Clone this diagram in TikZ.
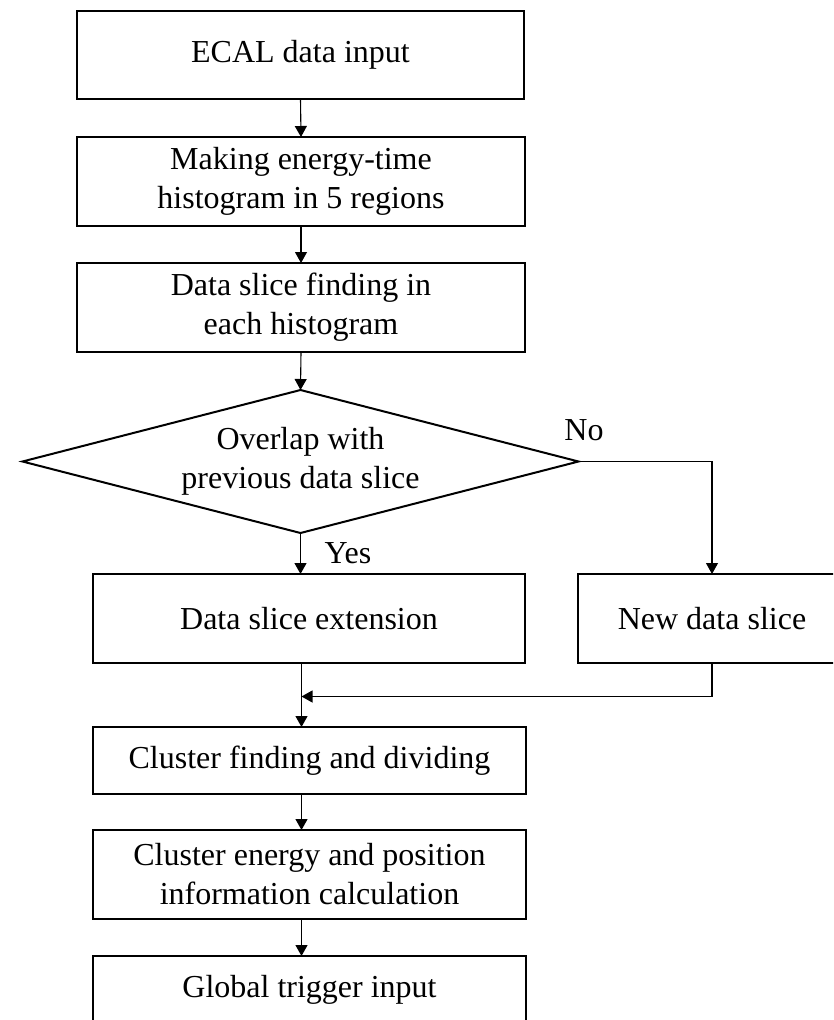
\documentclass[tikz,border=0pt]{standalone}
\usepackage{fontspec}
\setmainfont{Liberation Serif}
\usetikzlibrary{arrows.meta,shapes.geometric}
\tikzset{
  stepbox/.style={draw, line width=2pt, inner sep=0pt, outer sep=0pt, align=center,
    font=\fontsize{32}{39}\selectfont},
  decision/.style={draw, diamond, line width=2pt, inner sep=0pt, outer sep=0pt, aspect=3.9,
    minimum width=556pt, minimum height=143pt, align=center,
    font=\fontsize{32}{39}\selectfont},
  flow/.style={line width=1.1pt, -{Triangle[length=11pt,width=12pt]}},
  branch/.style={font=\fontsize{32}{39}\selectfont, inner sep=0pt},
}
\begin{document}
\begin{tikzpicture}[x=1pt, y=-1pt]
\useasboundingbox (0,0) rectangle (833,1020);
\clip (0,0) rectangle (833,1020);
\fill[white] (0,0) rectangle (833,1020);

% main column
\node[stepbox, minimum width=447pt, minimum height=88pt] (input) at (300.5,55) {ECAL data input};
\node[stepbox, minimum width=448pt, minimum height=89pt] (hist) at (301,181.5)
  {Making energy-time\\histogram in 5 regions};
\node[stepbox, minimum width=448pt, minimum height=89pt] (find) at (301,307.5)
  {Data slice finding in\\each histogram};
\node[decision] (overlap) at (300.5,461.5) {Overlap with\\previous data slice};
\node[stepbox, minimum width=432pt, minimum height=89pt] (ext) at (309,618.5) {Data slice extension};
\node[stepbox, minimum width=268pt, minimum height=89pt] (new) at (712,618.5) {New data slice};
\node[stepbox, minimum width=433pt, minimum height=67pt] (cluster) at (309.5,760.5) {Cluster finding and dividing};
\node[stepbox, minimum width=433pt, minimum height=89pt] (calc) at (309.5,874.5)
  {Cluster energy and position\\information calculation};
\node[stepbox, minimum width=433pt, minimum height=67pt] (global) at (309.5,989.5) {Global trigger input};

% vertical axis of the connectors and the merge point
\coordinate (spine) at (301.5,0);
\coordinate (merge) at (301.5,696.5);

% connectors
\draw[flow] (input.south) -- (hist.north);
\draw[flow] (hist.south) -- (find.north);
\draw[flow] (find.south) -- (overlap.north);
\draw[flow] (overlap.south) -- (overlap.south |- ext.north);
\draw[flow] (overlap.east) -| (new.north);
\draw[flow] (ext.south -| spine) -- (cluster.north -| spine);
\draw[flow] (new.south) |- (merge);
\draw[flow] (cluster.south -| spine) -- (calc.north -| spine);
\draw[flow] (calc.south -| spine) -- (global.north -| spine);

% branch labels
\node[branch] (no) at (584,430) {No};
\node[branch] (yes) at (348,553) {Yes};
\end{tikzpicture}
\end{document}
